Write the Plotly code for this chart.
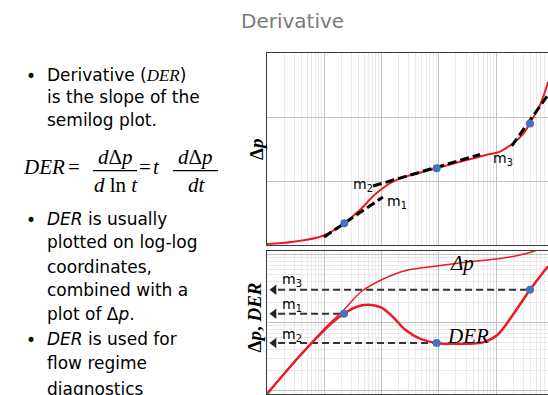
import plotly.graph_objects as go

# ---------------- Data ----------------
# Top panel: semilog plot of pressure change (t on log scale, dp linear)
t_semilog = [1, 2.88, 9.55, 22.4, 41.7, 81.3, 158, 316, 920, 2340, 6920, 11750, 19950, 30200, 38900, 58900, 81300]
dp_semilog = [0.016, 0.051, 0.145, 0.339, 0.547, 0.807, 0.99, 1.09, 1.20, 1.30, 1.41, 1.46, 1.59, 1.74, 1.90, 2.19, 2.55]

# Tangent (slope) lines m1, m2, m3 on the semilog plot
m1_t = [9.9, 106.2]
m1_dp = [0.125, 0.75]
m2_t = [71.1, 5260]
m2_dp = [0.922, 1.414]
m3_t = [18800, 80910]
m3_dp = [1.547, 2.344]

# Tangent points
pts_t = [22.4, 920, 39260]
pts_dp = [0.34, 1.20, 1.90]

# Bottom panel: log-log plot of dp and DER
der_t = [1, 2.52, 6.04, 13.5, 22.1, 35.9, 58.1, 97.9, 158.8, 257, 470, 920, 2350, 5930, 10400, 19800, 39260, 80910]
der_v = [0.0889, 0.222, 0.5, 0.984, 1.346, 1.69, 1.828, 1.674, 1.205, 0.789, 0.578, 0.5, 0.486, 0.511, 0.648, 1.303, 3.03, 6.70]

dpl_t = [1, 2.52, 6.04, 10.3, 22.1, 45.1, 100.7, 257, 920, 3112, 11750, 26240, 44260, 71780]
dpl_v = [0.0889, 0.222, 0.5, 0.83, 1.542, 2.877, 4.256, 5.781, 6.776, 7.762, 8.73, 9.84, 11.07, 13.34]

# DER values at tangent points (m3, m1, m2) and arrow start on the left axis
arrow_labels = ["m<sub>3</sub>", "m<sub>1</sub>", "m<sub>2</sub>"]
arrow_levels = [3.03, 1.346, 0.5]
arrow_end_t = [39260, 22.1, 920]
arrow_start_t = 1.56
arrow_head_t = 1.33

RED = "#ea1c24"
BLUE = "#4472c4"
SANS = "DejaVu Sans"
SERIF = "Liberation Serif"

fig = go.Figure()

# ---- top panel traces ----
fig.add_trace(go.Scatter(x=t_semilog, y=dp_semilog, mode="lines",
                         line=dict(color=RED, width=2, shape="spline", smoothing=1),
                         xaxis="x", yaxis="y", hoverinfo="skip"))
for tt, dd in [(m1_t, m1_dp), (m2_t, m2_dp), (m3_t, m3_dp)]:
    fig.add_trace(go.Scatter(x=tt, y=dd, mode="lines",
                             line=dict(color="black", width=3, dash="9px,4px"),
                             xaxis="x", yaxis="y", hoverinfo="skip"))
fig.add_trace(go.Scatter(x=pts_t, y=pts_dp, mode="markers",
                         marker=dict(color=BLUE, size=8),
                         xaxis="x", yaxis="y", hoverinfo="skip", cliponaxis=False))

# ---- bottom panel traces ----
for lev, te in zip(arrow_levels, arrow_end_t):
    fig.add_trace(go.Scatter(x=[arrow_start_t, te], y=[lev, lev], mode="lines",
                             line=dict(color="#333333", width=2, dash="7px,4px"),
                             xaxis="x2", yaxis="y2", hoverinfo="skip"))
fig.add_trace(go.Scatter(x=[arrow_head_t] * 3, y=arrow_levels, mode="markers",
                         marker=dict(symbol="triangle-left", color="#222222", size=9),
                         xaxis="x2", yaxis="y2", hoverinfo="skip", cliponaxis=False))
fig.add_trace(go.Scatter(x=dpl_t, y=dpl_v, mode="lines",
                         line=dict(color=RED, width=1.5, shape="spline", smoothing=1),
                         xaxis="x2", yaxis="y2", hoverinfo="skip"))
fig.add_trace(go.Scatter(x=der_t, y=der_v, mode="lines",
                         line=dict(color=RED, width=2.5, shape="spline", smoothing=1),
                         xaxis="x2", yaxis="y2", hoverinfo="skip"))
fig.add_trace(go.Scatter(x=arrow_end_t, y=arrow_levels, mode="markers",
                         marker=dict(color=BLUE, size=8),
                         xaxis="x2", yaxis="y2", hoverinfo="skip", cliponaxis=False))

# ---------------- Layout ----------------
FW, FH = 548, 395
L, T, B = 267, 53, 394          # plot-area left / top / bottom (page pixels)
R = FW                          # plot area runs to the right page edge
DEC = 57.25                     # pixels per decade on the time axis


def px(x):
    return (x - L) / (R - L)


def py(y):
    return (B - y) / (B - T)


MAJ = "#c4c4c4"
MIN = "#e9e9e9"
LINE = "#3c3c3c"

xcommon = dict(type="log", range=[0, (R - L) / DEC], dtick=1, showticklabels=False, ticks="",
               showgrid=True, gridcolor=MAJ, gridwidth=1, zeroline=False,
               minor=dict(dtick="D1", showgrid=True, gridcolor=MIN, gridwidth=1, ticks=""),
               showline=True, linecolor=LINE, linewidth=1.3, mirror=True, fixedrange=True)

fig.update_layout(
    width=FW, height=FH,
    margin=dict(l=L, r=FW - R, t=T, b=FH - B, pad=0),
    paper_bgcolor="white", plot_bgcolor="white",
    showlegend=False,
    xaxis=dict(anchor="y", **xcommon),
    yaxis=dict(domain=[py(245), 1], range=[0, 3], dtick=1, showticklabels=False, ticks="",
               showgrid=True, gridcolor=MAJ, zeroline=False,
               showline=True, linecolor=LINE, linewidth=1.3, fixedrange=True),
    xaxis2=dict(anchor="y2", **xcommon),
    yaxis2=dict(domain=[0, py(251)], type="log", range=[-1.051, 1.051], dtick=1,
                showticklabels=False, ticks="", showgrid=True, gridcolor=MAJ, zeroline=False,
                minor=dict(dtick="D1", showgrid=True, gridcolor=MIN, ticks=""),
                showline=True, linecolor=LINE, linewidth=1.3, fixedrange=True),
)

ann = []


def text(x, y, s, size=17, family=SANS, color="black", xanchor="left", angle=0):
    ann.append(dict(x=px(x), y=py(y), xref="paper", yref="paper", text=s, showarrow=False,
                    xanchor=xanchor, yanchor="middle", textangle=angle,
                    font=dict(family=family, size=size, color=color)))


# Title
text(292, 21, "Derivative", size=20, color="#7a7a7a", xanchor="center")

# Bullet text
ser_i = lambda s: '<span style="font-family:Liberation Serif"><i>%s</i></span>' % s
lines1 = ["Derivative (" + ser_i("DER") + ")", "is the slope of the", "semilog plot."]
y1 = [74.5, 97, 120]
lines2 = ["<i>DER</i> is usually", "plotted on log-log", "coordinates,", "combined with a",
          "plot of Δ<i>p</i>."]
y2 = [218.5, 242.5, 266.5, 290, 313.5]
lines3 = ["<i>DER</i> is used for", "flow regime", "diagnostics"]
y3 = [338.5, 362.5, 389]
for s, y in zip(lines1 + lines2 + lines3, y1 + y2 + y3):
    text(45, y, s)
for y in [y1[0], y2[0], y3[0]]:
    text(31, y + 1, "•", size=17, xanchor="center")

# Formula
text(43.5, 167, "<i>DER</i>", size=21, family=SERIF, xanchor="center")
text(73.5, 166.5, "=", size=21, family=SERIF, xanchor="center")
text(115, 156.5, "<i>d</i>Δ<i>p</i>", size=21, family=SERIF, xanchor="center")
text(115.5, 185, "<i>d</i> ln <i>t</i>", size=21, family=SERIF, xanchor="center")
text(144.5, 166.5, "=", size=21, family=SERIF, xanchor="center")
text(156, 167, "<i>t</i>", size=21, family=SERIF, xanchor="center")
text(195, 156.5, "<i>d</i>Δ<i>p</i>", size=21, family=SERIF, xanchor="center")
text(197, 185, "<i>dt</i>", size=21, family=SERIF, xanchor="center")

shapes = [
    dict(type="line", xref="paper", yref="paper", x0=px(93), x1=px(137), y0=py(170.7), y1=py(170.7),
         line=dict(color="black", width=1.2)),
    dict(type="line", xref="paper", yref="paper", x0=px(173), x1=px(218), y0=py(170.7), y1=py(170.7),
         line=dict(color="black", width=1.2)),
]

# Axis titles
text(256, 150, "<b>Δ<i>p</i></b>", size=19, family=SERIF, xanchor="center", angle=-90)
text(254, 317.5, "<b>Δ<i>p</i>, <i>DER</i></b>", size=19, family=SERIF, xanchor="center", angle=-90)

# Labels inside the plots
text(351, 185, "m<sub>2</sub>", size=14)
text(385, 202, "m<sub>1</sub>", size=14)
text(491, 159, "m<sub>3</sub>", size=14)
for s, y in zip(arrow_labels, [280, 305, 335]):
    text(280, y, s, size=14)
text(462, 263, "<i>Δp</i>", size=21, family=SERIF, xanchor="center")
text(468, 335.5, "<i>DER</i>", size=21, family=SERIF, xanchor="center")

fig.update_layout(annotations=ann, shapes=shapes)

# Remove the browser's default 8px body margin so the figure sits at the page origin.
fig.write_html("out.html",
               config={"displayModeBar": False, "staticPlot": True},
               post_script="document.body.style.margin='0px';document.body.style.overflow='hidden';")
